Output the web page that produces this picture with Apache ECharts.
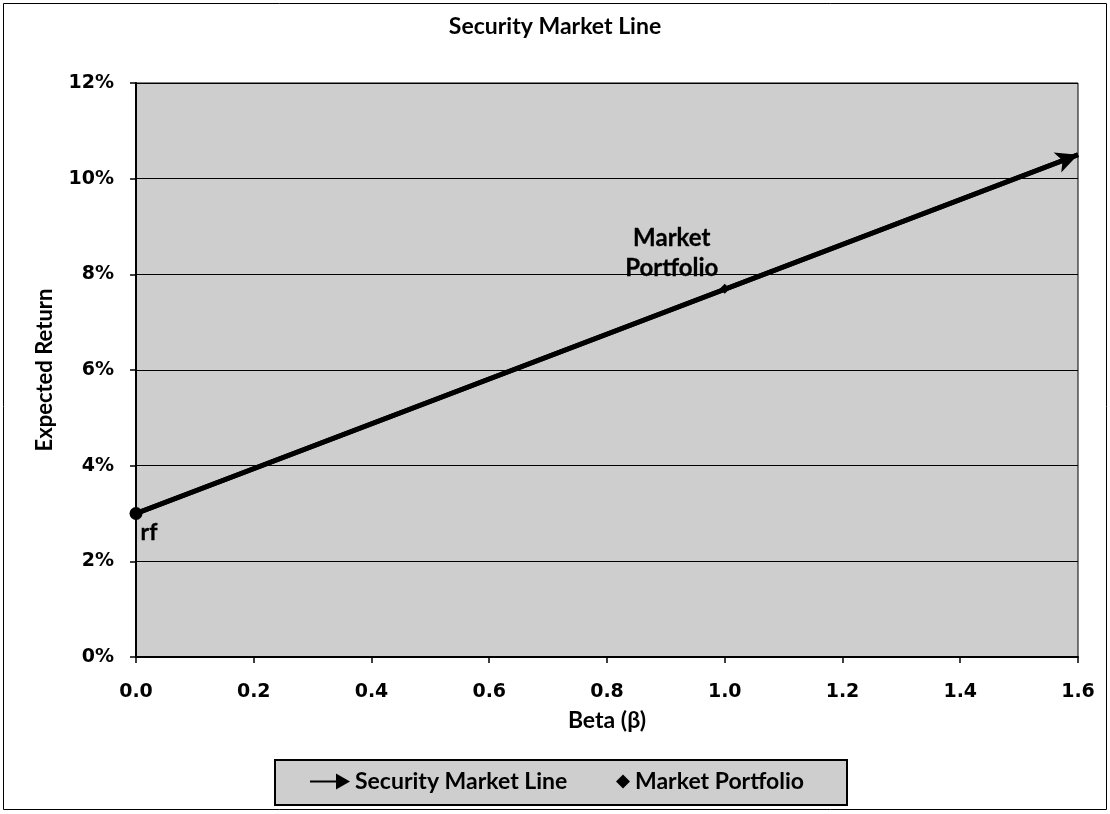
<!DOCTYPE html>
<html>
<head>
<meta charset="utf-8">
<script src="https://cdn.jsdelivr.net/npm/echarts@6/dist/echarts.min.js"></script>
<style>
  html, body { margin: 0; padding: 0; background: #ffffff; }
  #chart { width: 1110px; height: 814px; }
</style>
</head>
<body>
<div id="chart"></div>
<script>
// Security Market Line: expected return (%) against beta
const smlBeta = [0.0, 1.6];
const smlReturn = [3.0, 10.5];
const riskFree = [0.0, 3.0];
const marketPortfolio = [1.0, 7.7];
const xTicks = [0.0, 0.2, 0.4, 0.6, 0.8, 1.0, 1.2, 1.4, 1.6];
const yTicks = [0, 2, 4, 6, 8, 10, 12];

const smlData = smlBeta.map((b, i) => [b, smlReturn[i]]);

const labelFont = 'Lato, "Open Sans", sans-serif';
const tickFont = '"DejaVu Sans", Verdana, sans-serif';
const plotFill = '#cecece';
const legendText = { fontFamily: labelFont, fontWeight: 'bold', fontSize: 23, color: '#000' };

const chart = echarts.init(document.getElementById('chart'), null, { renderer: 'canvas' });

chart.setOption({
  backgroundColor: '#ffffff',
  animation: false,
  title: {
    text: 'Security Market Line',
    left: 'center',
    top: 10,
    textStyle: { fontFamily: labelFont, fontWeight: 'bold', fontSize: 23, color: '#000' }
  },
  graphic: [
    {
      type: 'rect',
      shape: { x: 3.5, y: 3.5, width: 1103, height: 806 },
      style: { fill: 'none', stroke: '#000', lineWidth: 1 },
      silent: true
    },
    {
      // frame behind the two legend entries
      type: 'rect',
      shape: { x: 275, y: 760, width: 572, height: 45 },
      style: { fill: plotFill, stroke: '#000', lineWidth: 2 },
      silent: true,
      z: -1
    }
  ],
  legend: [
    {
      left: 310,
      top: 770,
      padding: 0,
      itemWidth: 40,
      itemHeight: 16,
      textStyle: legendText,
      data: [{ name: 'Security Market Line', icon: 'path://M0,7 L26,7 L26,0 L40,8 L26,16 L26,9 L0,9 Z' }]
    },
    {
      left: 616,
      top: 770,
      padding: 0,
      itemWidth: 14,
      itemHeight: 14,
      textStyle: legendText,
      data: [{ name: 'Market Portfolio', icon: 'path://M6,0 L12,6 L6,12 L0,6 Z' }]
    }
  ],
  grid: {
    left: 136,
    right: 32,
    top: 83,
    bottom: 157,
    show: true,
    backgroundColor: plotFill,
    borderColor: '#000',
    borderWidth: 1
  },
  xAxis: {
    type: 'value',
    min: xTicks[0],
    max: xTicks[xTicks.length - 1],
    interval: 0.2,
    name: 'Beta (β)',
    nameLocation: 'middle',
    nameGap: 52,
    nameTextStyle: { fontFamily: labelFont, fontWeight: 'bold', fontSize: 23, color: '#000' },
    axisLine: { lineStyle: { color: '#000', width: 2 } },
    axisTick: { show: true, length: 6, inside: false, lineStyle: { color: '#000', width: 1.5 } },
    axisLabel: {
      margin: 26,
      fontFamily: tickFont, fontWeight: 'bold', fontSize: 19, color: '#000',
      formatter: v => v.toFixed(1)
    },
    splitLine: { show: false }
  },
  yAxis: {
    type: 'value',
    min: yTicks[0],
    max: yTicks[yTicks.length - 1],
    interval: 2,
    name: 'Expected Return',
    nameLocation: 'middle',
    nameGap: 80,
    nameRotate: 90,
    nameTextStyle: { fontFamily: labelFont, fontWeight: 'bold', fontSize: 22, color: '#000' },
    axisLine: { show: true, lineStyle: { color: '#000', width: 2 } },
    axisTick: { show: true, length: 6, inside: false, lineStyle: { color: '#000', width: 1.5 } },
    axisLabel: {
      margin: 22,
      fontFamily: tickFont, fontWeight: 'bold', fontSize: 19, color: '#000',
      formatter: '{value}%'
    },
    splitLine: { show: true, lineStyle: { color: '#000', width: 1 } }
  },
  series: [
    {
      name: 'Security Market Line',
      type: 'line',
      data: smlData,
      showSymbol: false,
      lineStyle: { color: '#000', width: 5 },
      itemStyle: { color: '#000' },
      markLine: {
        silent: true,
        symbol: ['none', 'arrow'],
        symbolSize: [16, 22],
        label: { show: false },
        lineStyle: { color: '#000', width: 5, type: 'solid' },
        data: [[{ coord: smlData[0] }, { coord: smlData[1] }]]
      },
      z: 3
    },
    {
      name: 'rf',
      type: 'scatter',
      data: [riskFree],
      symbol: 'circle',
      symbolSize: 13,
      itemStyle: { color: '#000', opacity: 1 },
      label: {
        show: true,
        formatter: 'rf',
        position: 'bottom',
        offset: [13, -4],
        fontFamily: labelFont, fontWeight: 'bold', fontSize: 23, color: '#000',
        textBorderColor: '#000', textBorderWidth: 0.3
      },
      z: 4
    },
    {
      name: 'Market Portfolio',
      type: 'scatter',
      data: [marketPortfolio],
      symbol: 'diamond',
      symbolSize: 10,
      itemStyle: { color: '#000', opacity: 1 },
      label: {
        show: true,
        formatter: 'Market\nPortfolio',
        position: 'top',
        offset: [-53, 5],
        lineHeight: 30,
        align: 'center',
        fontFamily: labelFont, fontWeight: 'bold', fontSize: 24, color: '#000',
        textBorderColor: '#000', textBorderWidth: 0.3
      },
      z: 4
    }
  ]
});
</script>
</body>
</html>
